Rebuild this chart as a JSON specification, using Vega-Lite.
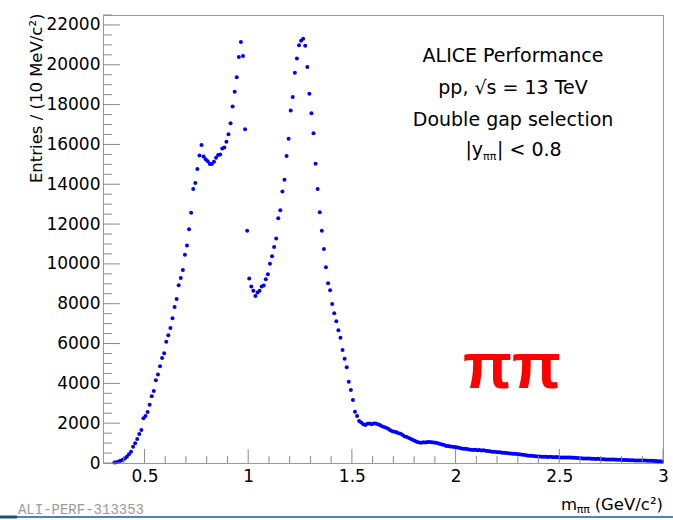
{
"$schema": "https://vega.github.io/schema/vega-lite/v6.json",
"width": 560, "height": 448,
"autosize": {"type": "none"},
"padding": {"left": 103, "top": 15, "right": 10, "bottom": 57},
"background": "white",
"config": {"view": {"stroke": "#9a9a9a", "strokeWidth": 1}, "font": "DejaVu Sans"},
"datasets": {
"ymajor": [{"t":0},{"t":2000},{"t":4000},{"t":6000},{"t":8000},{"t":10000},{"t":12000},{"t":14000},{"t":16000},{"t":18000},{"t":20000},{"t":22000}],
"yminor": [{"t":500},{"t":1000},{"t":1500},{"t":2500},{"t":3000},{"t":3500},{"t":4500},{"t":5000},{"t":5500},{"t":6500},{"t":7000},{"t":7500},{"t":8500},{"t":9000},{"t":9500},{"t":10500},{"t":11000},{"t":11500},{"t":12500},{"t":13000},{"t":13500},{"t":14500},{"t":15000},{"t":15500},{"t":16500},{"t":17000},{"t":17500},{"t":18500},{"t":19000},{"t":19500},{"t":20500},{"t":21000},{"t":21500},{"t":22500}],
"xmajor": [{"t":0.5},{"t":1.0},{"t":1.5},{"t":2.0},{"t":2.5},{"t":3.0}],
"xminor": [{"t":0.4},{"t":0.6},{"t":0.7},{"t":0.8},{"t":0.9},{"t":1.1},{"t":1.2},{"t":1.3},{"t":1.4},{"t":1.6},{"t":1.7},{"t":1.8},{"t":1.9},{"t":2.1},{"t":2.2},{"t":2.3},{"t":2.4},{"t":2.6},{"t":2.7},{"t":2.8},{"t":2.9}],
"hist": [
{"m":0.355,"n":20},{"m":0.365,"n":40},{"m":0.375,"n":70},{"m":0.385,"n":110},{"m":0.395,"n":160},{"m":0.405,"n":230},{"m":0.415,"n":320},{"m":0.425,"n":440},{"m":0.435,"n":570},{"m":0.445,"n":820},
{"m":0.455,"n":990},{"m":0.465,"n":1200},{"m":0.475,"n":1460},{"m":0.485,"n":1660},{"m":0.495,"n":2250},{"m":0.505,"n":2360},{"m":0.515,"n":2560},{"m":0.525,"n":2930},{"m":0.535,"n":3350},{"m":0.545,"n":3620},
{"m":0.555,"n":4150},{"m":0.565,"n":4440},{"m":0.575,"n":4860},{"m":0.585,"n":5270},{"m":0.595,"n":5510},{"m":0.605,"n":6090},{"m":0.615,"n":6410},{"m":0.625,"n":6780},{"m":0.635,"n":7270},{"m":0.645,"n":7840},
{"m":0.655,"n":8240},{"m":0.665,"n":8930},{"m":0.675,"n":9290},{"m":0.685,"n":9690},{"m":0.695,"n":10460},{"m":0.705,"n":10920},{"m":0.715,"n":11740},{"m":0.725,"n":12570},{"m":0.735,"n":13760},{"m":0.745,"n":14060},
{"m":0.755,"n":14770},{"m":0.765,"n":15440},{"m":0.775,"n":15970},{"m":0.785,"n":15390},{"m":0.795,"n":15250},{"m":0.805,"n":15150},{"m":0.815,"n":15020},{"m":0.825,"n":15020},{"m":0.835,"n":15130},{"m":0.845,"n":15330},
{"m":0.855,"n":15470},{"m":0.865,"n":15490},{"m":0.875,"n":15800},{"m":0.885,"n":15840},{"m":0.895,"n":16140},{"m":0.905,"n":16510},{"m":0.915,"n":17060},{"m":0.925,"n":17900},{"m":0.935,"n":18650},{"m":0.945,"n":19370},
{"m":0.955,"n":20390},{"m":0.965,"n":21150},{"m":0.975,"n":20440},{"m":0.985,"n":16760},{"m":0.995,"n":11670},{"m":1.005,"n":9260},{"m":1.015,"n":8860},{"m":1.025,"n":8650},{"m":1.035,"n":8390},{"m":1.045,"n":8560},
{"m":1.055,"n":8650},{"m":1.065,"n":8860},{"m":1.075,"n":8910},{"m":1.085,"n":9230},{"m":1.095,"n":9480},{"m":1.105,"n":10010},{"m":1.115,"n":10380},{"m":1.125,"n":10850},{"m":1.135,"n":11270},{"m":1.145,"n":12290},
{"m":1.155,"n":12690},{"m":1.165,"n":13630},{"m":1.175,"n":14230},{"m":1.185,"n":15420},{"m":1.195,"n":16290},{"m":1.205,"n":17700},{"m":1.215,"n":18380},{"m":1.225,"n":19600},{"m":1.235,"n":20310},{"m":1.245,"n":20980},
{"m":1.255,"n":21210},{"m":1.265,"n":21310},{"m":1.275,"n":20950},{"m":1.285,"n":19890},{"m":1.295,"n":18540},{"m":1.305,"n":17570},{"m":1.315,"n":16560},{"m":1.325,"n":15030},{"m":1.335,"n":13760},{"m":1.345,"n":12590},
{"m":1.355,"n":11670},{"m":1.365,"n":10750},{"m":1.375,"n":9830},{"m":1.385,"n":9030},{"m":1.395,"n":8670},{"m":1.405,"n":7990},{"m":1.415,"n":7520},{"m":1.425,"n":7120},{"m":1.435,"n":6670},{"m":1.445,"n":6290},
{"m":1.455,"n":5680},{"m":1.465,"n":5240},{"m":1.475,"n":4810},{"m":1.485,"n":4080},{"m":1.495,"n":3670},{"m":1.505,"n":3160},{"m":1.515,"n":2580},{"m":1.525,"n":2360},{"m":1.535,"n":2110},{"m":1.545,"n":2040},
{"m":1.555,"n":1940},{"m":1.565,"n":1910},{"m":1.575,"n":1970},{"m":1.585,"n":1990},{"m":1.595,"n":1950},{"m":1.605,"n":1980},{"m":1.615,"n":1990},{"m":1.625,"n":1940},{"m":1.635,"n":1910},{"m":1.645,"n":1850},
{"m":1.655,"n":1810},{"m":1.665,"n":1770},{"m":1.675,"n":1720},{"m":1.685,"n":1650},{"m":1.695,"n":1600},{"m":1.705,"n":1570},{"m":1.715,"n":1540},{"m":1.725,"n":1500},{"m":1.735,"n":1470},{"m":1.745,"n":1400},
{"m":1.755,"n":1330},{"m":1.765,"n":1300},{"m":1.775,"n":1260},{"m":1.785,"n":1210},{"m":1.795,"n":1150},{"m":1.805,"n":1100},{"m":1.815,"n":1060},{"m":1.825,"n":1030},{"m":1.835,"n":1020},{"m":1.845,"n":1040},
{"m":1.855,"n":1030},{"m":1.865,"n":1050},{"m":1.875,"n":1060},{"m":1.885,"n":1040},{"m":1.895,"n":1030},{"m":1.905,"n":1020},{"m":1.915,"n":990},{"m":1.925,"n":960},{"m":1.935,"n":930},{"m":1.945,"n":900},
{"m":1.955,"n":860},{"m":1.965,"n":850},{"m":1.975,"n":830},{"m":1.985,"n":810},{"m":1.995,"n":800},{"m":2.005,"n":790},{"m":2.015,"n":760},{"m":2.025,"n":740},{"m":2.035,"n":720},{"m":2.045,"n":710},
{"m":2.055,"n":700},{"m":2.065,"n":680},{"m":2.075,"n":660},{"m":2.085,"n":650},{"m":2.095,"n":660},{"m":2.105,"n":640},{"m":2.115,"n":650},{"m":2.125,"n":630},{"m":2.135,"n":640},{"m":2.145,"n":610},
{"m":2.155,"n":600},{"m":2.165,"n":590},{"m":2.175,"n":570},{"m":2.185,"n":570},{"m":2.195,"n":550},{"m":2.205,"n":540},{"m":2.215,"n":540},{"m":2.225,"n":520},{"m":2.235,"n":520},{"m":2.245,"n":500},
{"m":2.255,"n":490},{"m":2.265,"n":480},{"m":2.275,"n":470},{"m":2.285,"n":460},{"m":2.295,"n":450},{"m":2.305,"n":440},{"m":2.315,"n":430},{"m":2.325,"n":410},{"m":2.335,"n":400},{"m":2.345,"n":380},
{"m":2.355,"n":370},{"m":2.365,"n":360},{"m":2.375,"n":350},{"m":2.385,"n":340},{"m":2.395,"n":330},{"m":2.405,"n":330},{"m":2.415,"n":320},{"m":2.425,"n":310},{"m":2.435,"n":310},{"m":2.445,"n":300},
{"m":2.455,"n":310},{"m":2.465,"n":300},{"m":2.475,"n":290},{"m":2.485,"n":300},{"m":2.495,"n":290},{"m":2.505,"n":280},{"m":2.515,"n":280},{"m":2.525,"n":280},{"m":2.535,"n":270},{"m":2.545,"n":280},
{"m":2.555,"n":270},{"m":2.565,"n":260},{"m":2.575,"n":260},{"m":2.585,"n":250},{"m":2.595,"n":250},{"m":2.605,"n":240},{"m":2.615,"n":230},{"m":2.625,"n":230},{"m":2.635,"n":220},{"m":2.645,"n":220},
{"m":2.655,"n":210},{"m":2.665,"n":210},{"m":2.675,"n":200},{"m":2.685,"n":210},{"m":2.695,"n":200},{"m":2.705,"n":190},{"m":2.715,"n":190},{"m":2.725,"n":180},{"m":2.735,"n":180},{"m":2.745,"n":170},
{"m":2.755,"n":180},{"m":2.765,"n":170},{"m":2.775,"n":160},{"m":2.785,"n":160},{"m":2.795,"n":160},{"m":2.805,"n":150},{"m":2.815,"n":150},{"m":2.825,"n":150},{"m":2.835,"n":140},{"m":2.845,"n":140},
{"m":2.855,"n":140},{"m":2.865,"n":130},{"m":2.875,"n":130},{"m":2.885,"n":130},{"m":2.895,"n":120},{"m":2.905,"n":120},{"m":2.915,"n":120},{"m":2.925,"n":110},{"m":2.935,"n":110},{"m":2.945,"n":110},
{"m":2.955,"n":100},{"m":2.965,"n":100},{"m":2.975,"n":90},{"m":2.985,"n":90},{"m":2.995,"n":80}
]},
"layer": [
{
"data": {"name": "hist"},
"mark": {"type": "circle", "size": 16, "color": "#0000ff", "opacity": 1},
"encoding": {
"x": {"field": "m", "type": "quantitative", "scale": {"domain": [0.3, 3.0], "nice": false, "zero": false},
 "axis": {"orient": "bottom", "values": [0.5,1,1.5,2,2.5,3],
  "domain": false, "grid": false, "title": null, "ticks": false,
  "labelExpr": "'' + datum.value",
  "labelFontSize": 17, "labelColor": "#000000", "labelPadding": 5, "labelFlush": false, "labelOverlap": false, "labelBaseline": "top", "labelFont": "DejaVu Sans"}},
"y": {"field": "n", "type": "quantitative", "scale": {"domain": [0, 22500], "nice": false},
 "axis": {"orient": "left", "values": [0,2000,4000,6000,8000,10000,12000,14000,16000,18000,20000,22000],
  "domain": false, "grid": false, "ticks": false,
  "labelExpr": "'' + datum.value",
  "labelFontSize": 17, "labelColor": "#000000", "labelPadding": 3, "labelFlush": false, "labelOverlap": false, "labelFont": "DejaVu Sans",
  "title": "Entries / (10 MeV/c²)", "titleFontSize": 16.5, "titleFontWeight": "normal", "titleColor": "#000000", "titleFont": "DejaVu Sans",
  "titleAngle": -90, "titleAnchor": "end", "titleAlign": "right", "titleBaseline": "alphabetic", "titleX": -62, "titleY": -2}}
}
},
{"data": {"name": "ymajor"}, "mark": {"type": "rule", "color": "#8a8a8a", "strokeWidth": 1},
 "encoding": {"y": {"field": "t", "type": "quantitative"}, "x": {"datum": 0.3, "type": "quantitative"}, "x2": {"datum": 0.382}}},
{"data": {"name": "yminor"}, "mark": {"type": "rule", "color": "#8a8a8a", "strokeWidth": 1},
 "encoding": {"y": {"field": "t", "type": "quantitative"}, "x": {"datum": 0.3, "type": "quantitative"}, "x2": {"datum": 0.3434}}},
{"data": {"name": "xmajor"}, "mark": {"type": "rule", "color": "#8a8a8a", "strokeWidth": 1},
 "encoding": {"x": {"field": "t", "type": "quantitative"}, "y": {"datum": 0, "type": "quantitative"}, "y2": {"datum": 703}}},
{"data": {"name": "xminor"}, "mark": {"type": "rule", "color": "#8a8a8a", "strokeWidth": 1},
 "encoding": {"x": {"field": "t", "type": "quantitative"}, "y": {"datum": 0, "type": "quantitative"}, "y2": {"datum": 352}}},
{"data": {"values": [{}]}, "mark": {"type": "text", "text": "ALICE Performance", "fontSize": 19, "align": "center", "baseline": "alphabetic", "color": "#000000"},
 "encoding": {"x": {"datum": 2.277, "type": "quantitative"}, "y": {"datum": 20142, "type": "quantitative"}}},
{"data": {"values": [{}]}, "mark": {"type": "text", "text": "pp, √s = 13 TeV", "fontSize": 19, "align": "center", "baseline": "alphabetic", "color": "#000000"},
 "encoding": {"x": {"datum": 2.277, "type": "quantitative"}, "y": {"datum": 18535, "type": "quantitative"}}},
{"data": {"values": [{}]}, "mark": {"type": "text", "text": "Double gap selection", "fontSize": 19, "align": "center", "baseline": "alphabetic", "color": "#000000"},
 "encoding": {"x": {"datum": 2.277, "type": "quantitative"}, "y": {"datum": 16928, "type": "quantitative"}}},
{"data": {"values": [{}]}, "mark": {"type": "text", "text": "|y", "fontSize": 19, "align": "right", "baseline": "alphabetic", "color": "#000000", "dx": -30},
 "encoding": {"x": {"datum": 2.277, "type": "quantitative"}, "y": {"datum": 15421, "type": "quantitative"}}},
{"data": {"values": [{}]}, "mark": {"type": "text", "text": "ππ", "fontSize": 11, "align": "left", "baseline": "alphabetic", "color": "#000000", "dx": -30, "dy": 4},
 "encoding": {"x": {"datum": 2.277, "type": "quantitative"}, "y": {"datum": 15421, "type": "quantitative"}}},
{"data": {"values": [{}]}, "mark": {"type": "text", "text": "| < 0.8", "fontSize": 19, "align": "left", "baseline": "alphabetic", "color": "#000000", "dx": -16},
 "encoding": {"x": {"datum": 2.277, "type": "quantitative"}, "y": {"datum": 15421, "type": "quantitative"}}},
{"data": {"values": [{}]}, "mark": {"type": "text", "text": "ππ", "font": "Liberation Sans", "fontSize": 64, "fontWeight": "bold", "align": "center", "baseline": "alphabetic", "color": "#ff0000"},
 "encoding": {"x": {"datum": 2.272, "type": "quantitative"}, "y": {"datum": 3767, "type": "quantitative"}}},
{"data": {"values": [{}]}, "mark": {"type": "text", "text": "(GeV/c²)", "fontSize": 16.5, "align": "right", "baseline": "alphabetic", "color": "#000000"},
 "encoding": {"x": {"datum": 3.0, "type": "quantitative"}, "y": {"datum": -2361, "type": "quantitative"}}},
{"data": {"values": [{}]}, "mark": {"type": "text", "text": "ππ", "fontSize": 11, "align": "right", "baseline": "alphabetic", "color": "#000000", "dx": -73, "dy": 3},
 "encoding": {"x": {"datum": 3.0, "type": "quantitative"}, "y": {"datum": -2361, "type": "quantitative"}}},
{"data": {"values": [{}]}, "mark": {"type": "text", "text": "m", "fontSize": 16.5, "align": "right", "baseline": "alphabetic", "color": "#000000", "dx": -86},
 "encoding": {"x": {"datum": 3.0, "type": "quantitative"}, "y": {"datum": -2361, "type": "quantitative"}}},
{"data": {"values": [{}]}, "mark": {"type": "text", "text": "ALI-PERF-313353", "font": "Liberation Mono", "fontSize": 14, "align": "left", "baseline": "alphabetic", "color": "#9a9a9a"},
 "encoding": {"x": {"datum": -0.11, "type": "quantitative"}, "y": {"datum": -2562, "type": "quantitative"}}},
{"data": {"values": [{}]}, "mark": {"type": "rule", "color": "#4f81bd", "strokeWidth": 2},
 "encoding": {"x": {"datum": -0.1966, "type": "quantitative"}, "x2": {"datum": 3.048}, "y": {"datum": -2712, "type": "quantitative"}}},
{"data": {"values": [{}]}, "mark": {"type": "rule", "color": "#1f4e79", "strokeWidth": 3},
 "encoding": {"x": {"datum": -0.1966, "type": "quantitative"}, "x2": {"datum": -0.115}, "y": {"datum": -2712, "type": "quantitative"}}}
]
}
